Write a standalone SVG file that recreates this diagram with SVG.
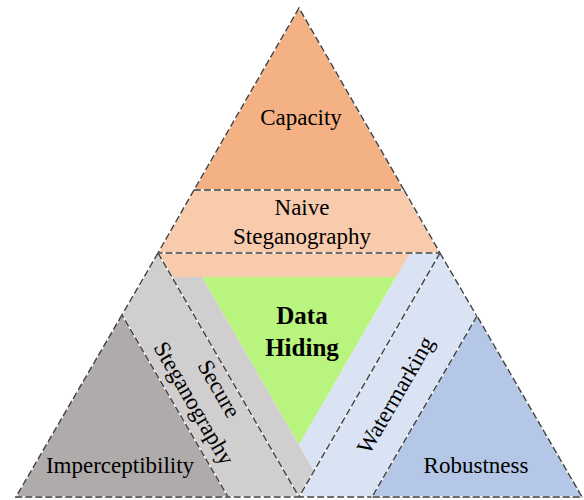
<svg xmlns="http://www.w3.org/2000/svg" xmlns:xlink="http://www.w3.org/1999/xlink" width="584" height="500" viewBox="0 0 584 500">
  <style>
    .w { stroke: #ffffff; stroke-width: 1.4; stroke-linejoin: miter; }
    .d { fill: none; stroke: #404040; stroke-width: 1.4; stroke-dasharray: 7 3; }
    .t { font-family: "Liberation Serif", "Times New Roman", serif; font-size: 23px; fill: #000000; text-anchor: middle; }
    .b { font-family: "Liberation Serif", "Times New Roman", serif; font-size: 25px; font-weight: bold; fill: #000000; text-anchor: middle; }
  </style>
  <defs>
    <polygon id="p-left" points="158,253 16,497 299,497"/>
    <polygon id="p-imp" points="122,315 16,497 228,497"/>
    <polygon id="p-right" points="440,253 299,497 582,497"/>
    <polygon id="p-rob" points="477,316 372,497 582,497"/>
    <polygon id="p-naive" points="194,190 404,190 440,253 158,253"/>
    <polygon id="p-cap" points="299,8 194,190 404,190"/>
  </defs>

  <g id="naive-fill">
    <polygon points="158,253 440,253 426,277 172,277" fill="#F8CBAD"/>
  </g>

  <g id="data-hiding">
    <polygon points="202,277 396,277 299,445" fill="#B8F47E"/>
    <text class="b" x="302" y="324">Data</text>
    <text class="b" x="302" y="356">Hiding</text>
  </g>

  <g id="secure-strip">
    <polygon points="172,277 202,277 314,471 299,497" fill="#D0CECE"/>
  </g>

  <g id="watermarking-strip">
    <polygon points="410,253 440,253 314,471 299,445" fill="#DAE3F3"/>
  </g>

  <g id="secure-steganography">
    <use xlink:href="#p-left" class="w" fill="#D0CECE"/>
    <use xlink:href="#p-left" class="d"/>
  </g>

  <g id="imperceptibility">
    <use xlink:href="#p-imp" class="w" fill="#AFABAB"/>
    <use xlink:href="#p-imp" class="d"/>
    <text class="t" x="120" y="473">Imperceptibility</text>
  </g>

  <g id="watermarking">
    <use xlink:href="#p-right" class="w" fill="#DAE3F3"/>
    <use xlink:href="#p-right" class="d"/>
  </g>

  <g id="robustness">
    <use xlink:href="#p-rob" class="w" fill="#B4C7E7"/>
    <use xlink:href="#p-rob" class="d"/>
    <text class="t" x="476" y="473">Robustness</text>
  </g>

  <g id="naive-steganography">
    <use xlink:href="#p-naive" class="w" fill="#F8CBAD"/>
    <use xlink:href="#p-naive" class="d"/>
    <text class="t" x="302" y="215">Naive</text>
    <text class="t" x="302" y="244">Steganography</text>
  </g>

  <g id="capacity">
    <use xlink:href="#p-cap" class="w" fill="#F4B183"/>
    <use xlink:href="#p-cap" class="d"/>
    <text class="t" x="301" y="125">Capacity</text>
  </g>

  <g id="labels">
    <g transform="translate(206.5,396) rotate(60)">
      <text class="t" x="0" y="-7">Secure</text>
      <text class="t" x="0" y="22">Steganography</text>
    </g>
    <g transform="translate(395.5,395) rotate(-60)">
      <text class="t" x="0" y="7.6">Watermarking</text>
    </g>
  </g>
</svg>
